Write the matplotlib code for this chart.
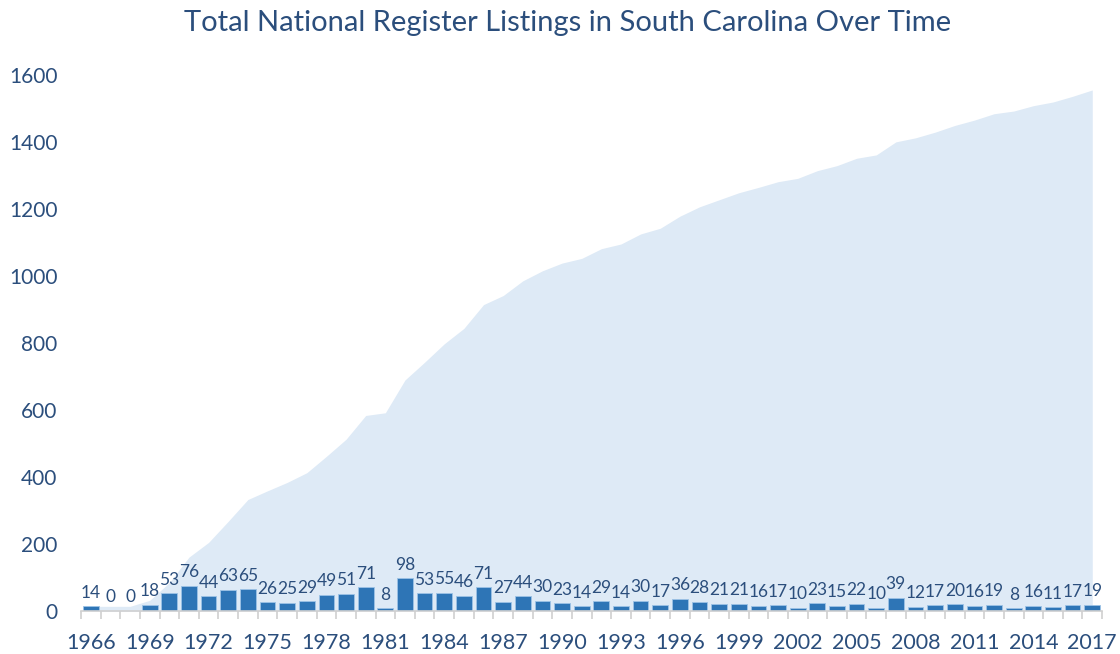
import numpy as np
from matplotlib import pyplot as plt

########## data ##########
years = list(range(1966, 2018))
new_listings = [14, 0, 0, 18, 53, 76, 44, 63, 65, 26, 25, 29, 49, 51, 71, 8, 98,
                53, 55, 46, 71, 27, 44, 30, 23, 14, 29, 14, 30, 17, 36, 28, 21, 21,
                16, 17, 10, 23, 15, 22, 10, 39, 12, 17, 20, 16, 19, 8, 16, 11, 17, 19]
y_ticks = [0, 200, 400, 600, 800, 1000, 1200, 1400, 1600]

# total listings = running sum of the yearly listings
total_listings = np.cumsum(new_listings)

plt.rcParams['font.family'] = ['Lato', 'DejaVu Sans']
text_col = "#2B4E7C"

fig = plt.figure(figsize=(11.2, 6.54), dpi=100)
ax = fig.add_axes([0.0723, 0.0657, 0.9117, 0.8193])

x = np.arange(len(years))
ax.fill_between(x, 0, total_listings, color="#DEEAF6", linewidth=0, zorder=1)
bars = ax.bar(x, new_listings, width=0.8, color="#2E75B6", edgecolor="#9DC3E6",
              linewidth=0.6, zorder=2)

for xi, v in zip(x, new_listings):
    ax.annotate(str(v), (xi, v), xytext=(0, 4), textcoords="offset points",
                ha="center", va="bottom", fontsize=12.5, color=text_col, zorder=3)

ax.set_xlim(-0.5, len(years) - 0.5)
ax.set_ylim(0, 1600)

# year labels every 3 years, tick marks between categories
ax.set_xticks(x[::3])
ax.set_xticklabels([str(y) for y in years[::3]])
ax.set_xticks(np.arange(len(years) + 1) - 0.5, minor=True)
ax.tick_params(axis="x", which="major", length=0, pad=16, labelsize=15.5, labelcolor=text_col)
ax.tick_params(axis="x", which="minor", length=6, width=1.2, color="#D0D0D0")

ax.set_yticks(y_ticks)
ax.tick_params(axis="y", length=0, pad=17, labelsize=15, labelcolor=text_col)

for s in ["top", "right", "left"]:
    ax.spines[s].set_visible(False)
ax.spines["bottom"].set_color("#D0D0D0")
ax.spines["bottom"].set_linewidth(1.2)

fig.text(0.507, 0.965, "Total National Register Listings in South Carolina Over Time",
         ha="center", va="center", fontsize=21, color=text_col)

fig.savefig("out.png", dpi=100)
